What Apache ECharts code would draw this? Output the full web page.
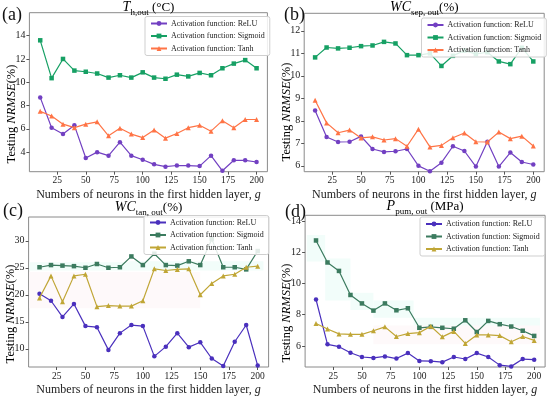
<!DOCTYPE html>
<html>
<head>
<meta charset="utf-8">
<script src="https://cdn.jsdelivr.net/npm/echarts@6/dist/echarts.min.js"></script>
<style>
html,body{margin:0;padding:0;background:#fff;}
#chart{width:550px;height:397px;}
</style>
</head>
<body>
<div id="chart"></div>
<script>
// ---------------- data ----------------
const g = [10,20,30,40,50,60,70,80,90,100,110,120,130,140,150,160,170,180,190,200];
const xTicks = [25,50,75,100,125,150,175,200];

// (a) T_h,out
const aReLU    = [8.7,6.1,5.55,6.3,3.5,4.0,3.7,4.85,3.7,3.35,2.95,2.75,2.85,2.85,2.8,3.7,2.4,3.3,3.3,3.15];
const aSigmoid = [13.6,10.35,12.0,11.0,10.9,10.75,10.4,10.6,10.4,10.85,10.4,10.3,10.65,10.5,10.8,10.6,11.2,11.6,11.9,11.2];
const aTanh    = [7.5,7.1,6.4,6.1,6.4,6.6,5.4,6.05,5.55,5.25,5.9,5.2,5.6,6.1,6.3,5.8,6.7,6.1,6.8,6.8];
const aYTicks  = [4,6,8,10,12,14];

// (b) WC_sep,out
const bReLU    = [8.46,7.28,7.06,7.07,7.31,6.75,6.62,6.65,6.75,6.0,5.76,6.14,6.87,6.66,5.97,7.07,5.97,6.59,6.17,6.06];
const bSigmoid = [10.82,11.26,11.22,11.25,11.32,11.35,11.51,11.44,10.92,10.92,11.0,10.44,10.89,11.12,10.97,11.05,10.64,10.52,11.25,10.64];
const bTanh    = [8.92,7.91,7.47,7.59,7.24,7.29,7.15,7.21,6.87,7.63,6.84,6.91,7.25,7.46,7.07,7.06,7.5,7.21,7.32,6.88];
const bYTicks  = [6,7,8,9,10,11,12];

// (c) WC_tan,out
const cReLU    = [20.2,18.9,15.9,18.3,14.2,14.0,9.8,12.9,14.4,14.2,8.6,10.4,12.9,10.3,11.2,8.2,6.8,11.3,14.4,6.9];
const cSigmoid = [25.1,25.5,25.4,25.3,25.0,25.7,25.0,25.1,27.1,25.5,27.6,25.5,25.4,26.2,25.5,30.3,25.1,25.1,24.7,28.1];
const cTanh    = [19.4,23.5,18.7,23.5,23.8,17.8,18.0,17.9,17.9,18.9,24.8,24.5,24.7,24.8,20.0,22.1,23.5,23.8,25.1,25.3];
const cYTicks  = [10,15,20,25,30];
// faint shaded regions [x0, x1, y0, y1]
const cCyanBands = [[1,88,24.5,26.0],[88,205,24.5,26.2]];
const cPinkBands = [[1,150,17.5,24.2]];

// (d) P_pum,out
const dReLU    = [8.97,6.1,5.95,5.56,5.29,5.23,5.33,5.19,5.54,5.04,5.02,4.96,5.29,5.16,5.54,5.29,4.77,4.69,5.16,5.12];
const dSigmoid = [12.75,11.34,10.8,9.26,8.72,8.26,8.72,8.28,8.41,7.16,7.22,7.16,7.1,7.64,6.89,7.6,7.39,7.24,6.97,6.64];
const dTanh    = [7.43,7.08,6.77,6.74,6.74,6.97,7.22,6.6,6.79,6.85,7.26,6.58,6.93,6.16,6.7,6.7,6.66,6.27,6.6,6.35];
const dYTicks  = [6,8,10,12,14];
const dCyanBands = [[2,18,11.4,13.1],[18,40,8.9,11.6],[40,60,8.3,9.4],[60,95,7.8,8.9],[95,150,6.8,7.8],[150,205,6.5,7.8]];
const dPinkBands = [[60,205,6.1,7.3]];

const names = ['Activation function: ReLU','Activation function: Sigmoid','Activation function: Tanh'];

// ---------------- layout / style ----------------
const FONT = '"Liberation Serif","Times New Roman",serif';
const panels = [
  {grid:{left:29.4,top:12.7,width:238,height:159}, ymin:2.32, ymax:15.97, yticks:aYTicks,
   data:[aReLU,aSigmoid,aTanh], colors:['#7240c2','#16a064','#ff7446'], suffix:'',
   legend:{left:145,top:16.5}, cyan:[], pink:[]},
  {grid:{left:304.2,top:13.3,width:240,height:158.4}, ymin:5.74, ymax:12.78, yticks:bYTicks,
   data:[bReLU,bSigmoid,bTanh], colors:['#7240c2','#16a064','#ff7446'], suffix:'',
   legend:{left:421.5,top:18}, cyan:[], pink:[]},
  {grid:{left:28.6,top:217,width:240,height:154}, ymin:6.63, ymax:34.4, yticks:cYTicks,
   data:[cReLU,cSigmoid,cTanh], colors:['#4a30bd','#3c7b5f','#c0a636'], suffix:' ',
   legend:{left:144,top:215.5}, cyan:cCyanBands, pink:cPinkBands},
  {grid:{left:305.1,top:215.3,width:240,height:155.7}, ymin:4.65, ymax:14.36, yticks:dYTicks,
   data:[dReLU,dSigmoid,dTanh], colors:['#4a30bd','#3c7b5f','#c0a636'], suffix:' ',
   legend:{left:420,top:217}, cyan:dCyanBands, pink:dPinkBands}
];
const symbols = ['circle','rect','triangle'];
const symSizes = [4.5,4.5,5];

const grids=[], xAxes=[], yAxes=[], series=[], legends=[];
panels.forEach((p,i)=>{
  grids.push(Object.assign({show:true,borderColor:'#8a8a8a',borderWidth:1,backgroundColor:'transparent'},p.grid));
  xAxes.push({type:'value',gridIndex:i,min:0.5,max:209.5,
    axisLine:{show:false},splitLine:{show:false},
    axisTick:{show:true,length:3,lineStyle:{color:'#555'},customValues:xTicks},
    axisLabel:{color:'#222',fontFamily:FONT,fontSize:9.5,margin:4,customValues:xTicks},
    name:'{n|Numbers of neurons in the first hidden layer, }{i|g}',nameLocation:'middle',nameGap:17,
    nameTextStyle:{rich:{n:{fontFamily:FONT,fontSize:12,color:'#222'},i:{fontFamily:FONT,fontSize:12,fontStyle:'italic',color:'#222'}}}
  });
  yAxes.push({type:'value',gridIndex:i,min:p.ymin,max:p.ymax,
    axisLine:{show:false},splitLine:{show:false},
    axisTick:{show:true,length:3,lineStyle:{color:'#555'},customValues:p.yticks},
    axisLabel:{color:'#222',fontFamily:FONT,fontSize:10,margin:4,customValues:p.yticks}
  });
  const ls = [];
  names.forEach((n,k)=>{
    const nm = n + p.suffix;
    ls.push(nm);
    const s = {type:'line',name:nm,xAxisIndex:i,yAxisIndex:i,
      data:g.map((x,j)=>[x,p.data[k][j]]),
      symbol:symbols[k],symbolSize:symSizes[k],showAllSymbol:true,
      lineStyle:{color:p.colors[k],width:1.2},
      itemStyle:{color:p.colors[k]},
      animation:false,z:3+k*0.01};
    if(k===0 && (p.cyan.length||p.pink.length)){
      s.markArea={silent:true,z:1,data:[
        ...p.cyan.map(b=>[{coord:[b[0],b[2]],itemStyle:{color:'#f2fdfa',opacity:1}},{coord:[b[1],b[3]]}]),
        ...p.pink.map(b=>[{coord:[b[0],b[2]],itemStyle:{color:'#fef9fa',opacity:1}},{coord:[b[1],b[3]]}])
      ]};
    }
    series.push(s);
  });
  legends.push({orient:'vertical',left:p.legend.left,top:p.legend.top,data:ls,
    formatter:(nm)=>nm.trim(),
    itemWidth:16,itemHeight:6,itemGap:4.5,padding:[3,5,3,5],
    borderColor:'#cfcfcf',borderWidth:1,borderRadius:2,backgroundColor:'rgba(255,255,255,0.85)',
    textStyle:{fontFamily:FONT,fontSize:8,color:'#222',padding:[0,0,0,-1]},
    selectedMode:false});
});

const richTitle = {
  i:{fontFamily:FONT,fontSize:14,fontStyle:'italic',color:'#111',lineHeight:16,padding:[0,0,3,0],verticalAlign:'bottom'},
  n:{fontFamily:FONT,fontSize:13,color:'#111',lineHeight:16,padding:[0,0,3,0],verticalAlign:'bottom'},
  s:{fontFamily:FONT,fontSize:9,color:'#111',lineHeight:10,verticalAlign:'bottom'}
};
const titles = [
  {x:148.5,y:9,text:'{i|T}{s|h,out}{n| (°C)}'},
  {x:424.3,y:9,text:'{i|WC}{s|sep, out}{n|(%)}'},
  {x:148.6,y:209,text:'{i|WC}{s|tan, out}{n|(%)}'},
  {x:425.1,y:208,text:'{i|P}{s|pum, out}{n| (MPa)}'}
];
const panelLabels = [
  {x:2,y:15,t:'(a)'},{x:284,y:15,t:'(b)'},{x:3,y:211,t:'(c)'},{x:285,y:212,t:'(d)'}
];
const yLabels = [{x:11.5,y:114},{x:287,y:112},{x:11,y:314},{x:287,y:313}];

const graphic = [];
titles.forEach(t=>graphic.push({type:'text',x:t.x,y:t.y,z:10,style:{text:t.text,rich:richTitle,align:'center',verticalAlign:'middle'}}));
panelLabels.forEach(l=>graphic.push({type:'text',x:l.x,y:l.y,z:10,style:{text:l.t,font:'18px '+FONT,fill:'#111',align:'left',verticalAlign:'middle'}}));
yLabels.forEach(l=>graphic.push({type:'text',x:l.x,y:l.y,rotation:Math.PI/2,z:10,style:{
  text:'{n|Testing }{i|NRMSE}{n|(%)}',align:'center',verticalAlign:'middle',
  rich:{n:{fontFamily:FONT,fontSize:12.5,color:'#222'},i:{fontFamily:FONT,fontSize:12.5,fontStyle:'italic',color:'#222'}}}}));

const chart = echarts.init(document.getElementById('chart'),null,{renderer:'canvas'});
chart.setOption({
  backgroundColor:'#fff',
  animation:false,
  grid:grids,xAxis:xAxes,yAxis:yAxes,series:series,legend:legends,graphic:graphic
});
</script>
</body>
</html>
